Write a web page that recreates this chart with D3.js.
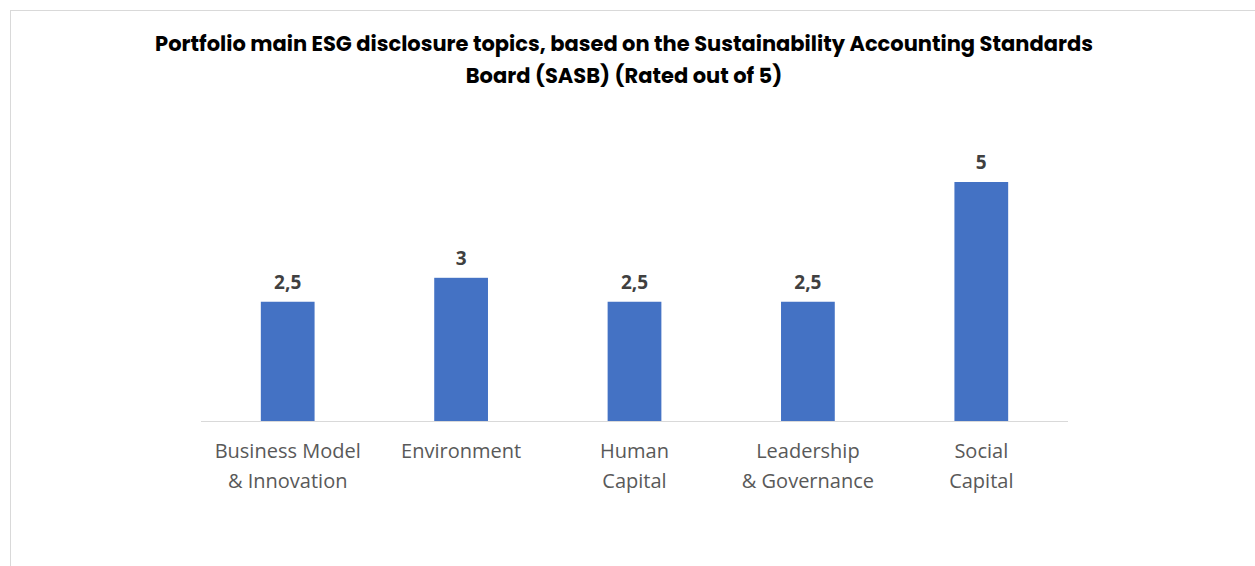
<!DOCTYPE html>
<html>
<head>
<meta charset="utf-8">
<script src="https://cdn.jsdelivr.net/npm/d3@7"></script>
<style>
  body { margin: 0; background: #fff; }
</style>
</head>
<body>
<script>
const width = 1255;
const height = 566;
const categories = [
  ["Business Model", "& Innovation"],
  ["Environment"],
  ["Human", "Capital"],
  ["Leadership", "& Governance"],
  ["Social", "Capital"]
];
const values = [2.5, 3, 2.5, 2.5, 5];
const valueLabels = ["2,5", "3", "2,5", "2,5", "5"];
const titleLines = [
  "Portfolio main ESG disclosure topics, based on the Sustainability Accounting Standards",
  "Board (SASB) (Rated out of 5)"
];

const svg = d3.select("body")
  .append("svg")
  .attr("width", width)
  .attr("height", height);

// frame
svg.append("rect")
  .attr("x", 10.5).attr("y", 10.5)
  .attr("width", width).attr("height", height)
  .attr("fill", "none")
  .attr("stroke", "#d9d9d9");

svg.append("g")
  .selectAll("text")
  .data(titleLines)
  .enter()
  .append("text")
  .attr("x", 624)
  .attr("y", (d, i) => 51 + i * 32)
  .attr("text-anchor", "middle")
  .attr("font-family", "Poppins, 'Open Sans', sans-serif")
  .attr("font-weight", "bold")
  .attr("font-size", 21)
  .attr("fill", "#000")
  .text(d => d);

const scaleX = d3.scaleBand()
  .domain(d3.range(values.length))
  .range([201, 1068])
  .paddingInner(0.69)
  .paddingOuter(0.345);

const scaleY = d3.scaleLinear().domain([0, 5]).range([421.5, 182]);

svg.selectAll("rect.bar")
  .data(values)
  .enter()
  .append("rect")
  .attr("class", "bar")
  .attr("x", (d, i) => scaleX(i))
  .attr("y", d => scaleY(d))
  .attr("width", scaleX.bandwidth())
  .attr("height", d => scaleY(0) - scaleY(d))
  .attr("fill", "#4472c4");

svg.append("line")
  .attr("x1", 201).attr("x2", 1068)
  .attr("y1", 421.5).attr("y2", 421.5)
  .attr("stroke", "#d9d9d9")
  .attr("stroke-width", 1);

svg.selectAll("text.val")
  .data(values)
  .enter()
  .append("text")
  .attr("class", "val")
  .attr("x", (d, i) => scaleX(i) + scaleX.bandwidth() / 2)
  .attr("y", d => scaleY(d) - 13)
  .attr("text-anchor", "middle")
  .attr("font-family", "'Open Sans', sans-serif")
  .attr("font-weight", "bold")
  .attr("font-size", 19)
  .attr("fill", "#404040")
  .text((d, i) => valueLabels[i]);

const labels = svg.selectAll("text.cat")
  .data(categories)
  .enter()
  .append("text")
  .attr("class", "cat")
  .attr("text-anchor", "middle")
  .attr("font-family", "'Open Sans', sans-serif")
  .attr("font-size", 20)
  .attr("fill", "#595959");

labels.selectAll("tspan")
  .data((d, i) => d.map(t => ({ t, i })))
  .enter()
  .append("tspan")
  .attr("x", d => scaleX(d.i) + scaleX.bandwidth() / 2)
  .attr("y", (d, j) => 458 + j * 30)
  .text(d => d.t);
</script>
</body>
</html>
